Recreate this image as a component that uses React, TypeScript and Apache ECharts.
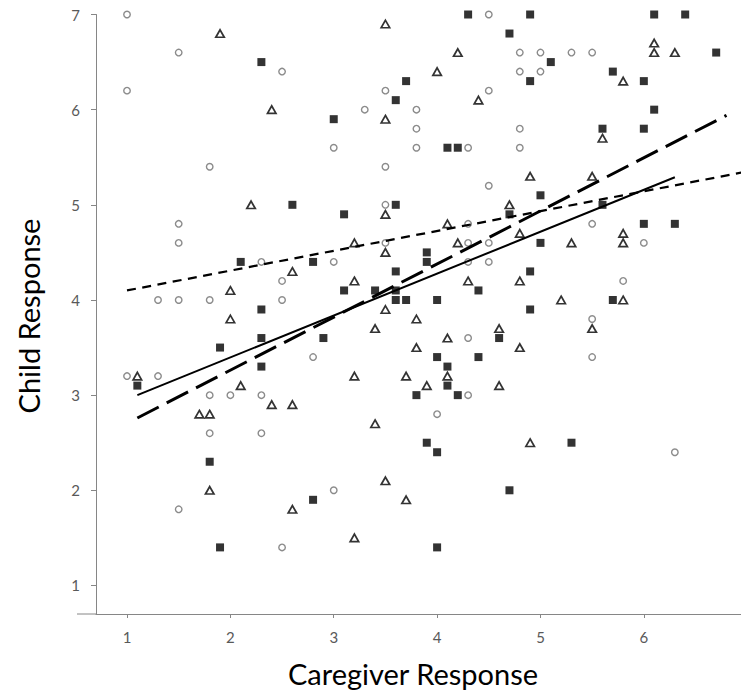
import React, { useEffect, useRef } from "react";
import * as echarts from "echarts";

// Series values [caregiver, child]
const circleData: number[][] = [
  [1.0, 7.0], [1.5, 6.6], [1.0, 6.2], [1.8, 5.4], [1.5, 4.8], [1.5, 4.6], [1.3, 4.0], [1.5, 4.0],
  [1.8, 4.0], [1.0, 3.2], [1.3, 3.2], [1.8, 3.0], [2.0, 3.0], [1.8, 2.6], [1.5, 1.8],
  [4.5, 7.0], [2.5, 6.4], [3.5, 6.2], [4.5, 6.2], [3.3, 6.0], [3.8, 6.0], [3.8, 5.8], [3.0, 5.6],
  [3.8, 5.6], [4.3, 5.6], [3.5, 5.4], [4.5, 5.2], [3.5, 5.0], [4.3, 4.8],
  [4.8, 6.6], [5.0, 6.6], [5.3, 6.6], [5.5, 6.6], [4.8, 6.4], [5.0, 6.4], [4.8, 5.8], [4.8, 5.6], [5.5, 4.8],
  [2.3, 4.4], [3.0, 4.4], [3.5, 4.6], [4.3, 4.6], [4.3, 4.4], [4.5, 4.6], [4.5, 4.4], [2.5, 4.2],
  [2.5, 4.0], [4.3, 3.6], [2.8, 3.4], [4.3, 3.0], [2.3, 3.0], [4.0, 2.8], [2.3, 2.6],
  [6.0, 4.6], [5.8, 4.2], [5.5, 3.8], [5.5, 3.4], [6.3, 2.4], [3.0, 2.0], [2.5, 1.4],
];

const triangleData: number[][] = [
  [1.9, 6.8], [2.2, 5.0], [3.5, 6.9], [4.2, 6.6], [4.0, 6.4], [4.4, 6.1], [2.4, 6.0], [3.5, 5.9],
  [3.5, 4.9], [4.1, 4.8], [6.1, 6.7], [6.1, 6.6], [6.3, 6.6], [5.8, 6.3], [5.6, 5.7], [4.9, 5.3],
  [5.5, 5.3], [4.7, 5.0], [2.0, 4.1], [2.0, 3.8], [1.1, 3.2], [2.1, 3.1], [1.7, 2.8], [1.8, 2.8],
  [3.2, 4.6], [3.5, 4.5], [4.2, 4.6], [2.6, 4.3], [3.2, 4.2], [4.3, 4.2], [3.5, 3.9], [3.8, 3.8],
  [3.4, 3.7], [4.1, 3.6], [3.8, 3.5], [4.1, 3.2], [3.2, 3.2], [3.7, 3.2], [3.9, 3.1], [2.4, 2.9],
  [2.6, 2.9], [3.4, 2.7], [4.8, 4.7], [5.3, 4.6], [5.8, 4.7], [5.8, 4.6], [4.8, 4.2], [5.2, 4.0],
  [5.8, 4.0], [4.6, 3.7], [5.5, 3.7], [4.8, 3.5], [4.6, 3.1], [4.9, 2.5], [1.8, 2.0], [3.5, 2.1],
  [3.7, 1.9], [2.6, 1.8], [3.2, 1.5],
];

const squareData: number[][] = [
  [4.3, 7.0], [2.3, 6.5], [3.7, 6.3], [3.6, 6.1], [3.0, 5.9], [4.1, 5.6], [4.2, 5.6], [2.6, 5.0],
  [3.6, 5.0], [3.1, 4.9], [4.9, 7.0], [6.1, 7.0], [6.4, 7.0], [4.7, 6.8], [6.7, 6.6], [5.1, 6.5],
  [4.9, 6.3], [5.7, 6.4], [6.0, 6.3], [6.1, 6.0], [5.6, 5.8], [6.0, 5.8], [5.0, 5.1], [4.7, 4.9],
  [5.6, 5.0], [6.0, 4.8], [6.3, 4.8], [2.1, 4.4], [1.9, 3.5], [1.1, 3.1], [2.8, 4.4], [3.9, 4.5],
  [3.9, 4.4], [3.6, 4.3], [3.1, 4.1], [3.4, 4.1], [3.6, 4.1], [3.6, 4.0], [3.7, 4.0], [4.0, 4.0],
  [4.4, 4.1], [2.3, 3.9], [2.3, 3.6], [2.9, 3.6], [4.0, 3.4], [4.4, 3.4], [4.1, 3.3], [2.3, 3.3],
  [4.1, 3.1], [3.8, 3.0], [4.2, 3.0], [3.9, 2.5], [5.0, 4.6], [4.9, 4.3], [5.7, 4.0], [4.9, 3.9],
  [4.6, 3.6], [5.3, 2.5], [1.8, 2.3], [1.9, 1.4], [4.0, 2.4], [2.8, 1.9], [4.0, 1.4], [4.7, 2.0],
];

// Trend lines (end points)
const trendCircles: number[][] = [[1.0, 4.1], [6.95, 5.34]];
const trendTriangles: number[][] = [[1.1, 3.0], [6.3, 5.29]];
const trendSquares: number[][] = [[1.1, 2.76], [6.8, 5.94]];

const xName = "Caregiver Response";
const yName = "Child Response";

const FONT = "Lato, 'Open Sans', sans-serif";

const intLabel = (v: number) => (Math.abs(v - Math.round(v)) < 1e-6 ? String(Math.round(v)) : "");

export default function App() {
  const ref = useRef<HTMLDivElement>(null);
  useEffect(() => {
    document.body.style.margin = "0";
    const chart = echarts.init(ref.current as HTMLDivElement, null, { renderer: "svg" });
    chart.setOption({
      animation: false,
      backgroundColor: "#ffffff",
      grid: { left: 96, top: 14.5, right: 0, bottom: 77 },
      xAxis: {
        type: "value",
        min: 0.7,
        max: 6.94,
        splitNumber: 6,
        splitLine: { show: false },
        axisLine: { onZero: false, lineStyle: { color: "#868686", width: 1 } },
        axisTick: { show: true, length: 4, lineStyle: { color: "#868686" } },
        axisLabel: {
          showMinLabel: false,
          showMaxLabel: false,
          color: "#595959",
          fontSize: 15,
          fontFamily: FONT,
          margin: 15,
          formatter: intLabel,
        },
      },
      yAxis: {
        type: "value",
        min: 0.7,
        max: 7,
        splitNumber: 6,
        splitLine: { show: false },
        axisLine: { show: true, onZero: false, lineStyle: { color: "#868686", width: 1 } },
        axisTick: { show: true, length: 5, lineStyle: { color: "#868686" } },
        axisLabel: {
          showMinLabel: false,
          showMaxLabel: true,
          color: "#595959",
          fontSize: 15,
          fontFamily: FONT,
          margin: 16,
          formatter: intLabel,
        },
      },
      graphic: [
        { type: "line", shape: { x1: 77, y1: 614, x2: 96, y2: 614 }, style: { stroke: "#868686", lineWidth: 1 }, z: 10 },
        {
          type: "text",
          x: 413,
          y: 673,
          style: { text: xName, font: `29px ${FONT}`, fill: "#000", align: "center", verticalAlign: "middle" },
        },
        {
          type: "text",
          x: 28,
          y: 316,
          rotation: Math.PI / 2,
          style: { text: yName, font: `29px ${FONT}`, fill: "#000", align: "center", verticalAlign: "middle" },
        },
      ],
      series: [
        {
          type: "scatter",
          data: circleData,
          symbol: "circle",
          symbolSize: 6.5,
          itemStyle: { color: "#ffffff", borderColor: "#6e6e6e", borderWidth: 1.4 },
          z: 2,
        },
        {
          type: "scatter",
          data: triangleData,
          symbol: "triangle",
          symbolSize: [8.5, 7.5],
          itemStyle: { color: "#ffffff", borderColor: "#000000", borderWidth: 1.7 },
          z: 3,
        },
        {
          type: "scatter",
          data: squareData,
          symbol: "rect",
          symbolSize: 8,
          itemStyle: { color: "#000000" },
          z: 4,
        },
        {
          type: "line",
          data: trendCircles,
          symbol: "none",
          lineStyle: { color: "#000", width: 2.25, type: [9, 6.5] },
          z: 5,
        },
        {
          type: "line",
          data: trendTriangles,
          symbol: "none",
          lineStyle: { color: "#000", width: 2, type: "solid" },
          z: 5,
        },
        {
          type: "line",
          data: trendSquares,
          symbol: "none",
          lineStyle: { color: "#000", width: 3, type: [24, 9] },
          z: 5,
        },
      ],
    });
    return () => chart.dispose();
  }, []);
  return <div ref={ref} style={{ width: 741, height: 691 }} />;
}
